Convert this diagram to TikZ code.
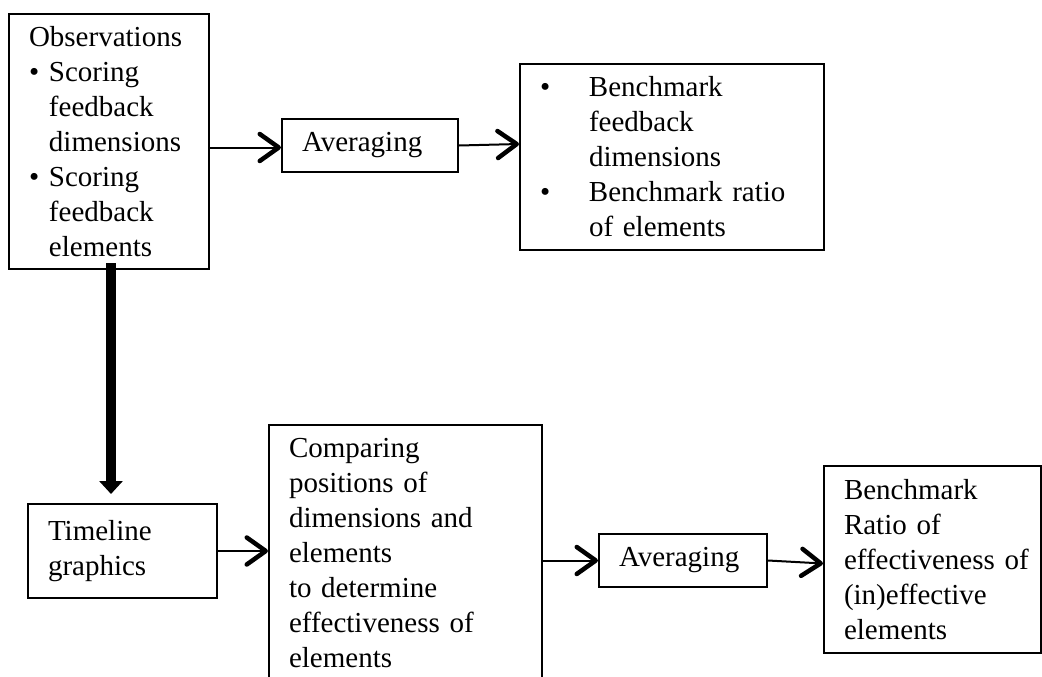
\documentclass[tikz,border=0pt]{standalone}
\usepackage{fontspec}
\setmainfont{Liberation Serif}
\usetikzlibrary{arrows.meta, calc}

\newcommand{\itm}[1][20pt]{\makebox[#1][l]{\textbullet}}
\newcommand{\ind}[1][20pt]{\hspace*{#1}}

\begin{document}
\begin{tikzpicture}[
            x = 1pt, y = 1pt,
            arr/.style = {-{Straight Barb[length=19pt,width=27pt,line width=4.5pt,round]}, line width=2pt}, % open arrow head
            bigarr/.style = {-{Triangle[length=13pt,width=23pt]}, line width=10pt} % heavy arrow
        ]

        \tikzstyle{box}=[
            draw = black,
            line width = 2pt,
            fill = white,
            anchor = north west,
            inner xsep = 20pt,
            inner ysep = 0pt,
            align = left,
            font = \fontsize{29}{35}\selectfont
        ]

        \useasboundingbox (0,0) rectangle (1042,-677);
        \clip (0,0) rectangle (1042,-677);

        \node[box, text width=160pt, minimum height=255pt] (obs) at (8,-13)
            {Observations\\ \itm Scoring\\ \ind feedback\\ \ind dimensions\\ \itm Scoring\\ \ind feedback\\ \ind elements};
        \node[box, text width=136pt, minimum height=53pt] (avg1) at (281,-118) {Averaging};
        \node[box, text width=264pt, minimum height=186pt] (bench1) at (519,-63)
            {\itm[49pt]Benchmark\\ \ind[49pt]feedback\\ \ind[49pt]dimensions\\ \itm[49pt]Benchmark ratio\\ \ind[49pt]of elements};
        \node[box, text width=149pt, minimum height=94pt] (tl) at (27,-503) {Timeline\\ graphics};
        \node[box, text width=233pt, minimum height=256pt] (cmp) at (268,-424)
            {Comparing\\ positions of\\ dimensions and\\ elements\\ to determine\\ effectiveness of\\ elements};
        \node[box, text width=128pt, minimum height=53pt] (avg2) at (598,-533) {Averaging};
        \node[box, text width=177pt, minimum height=187pt] (bench2) at (823,-465)
            {Benchmark\\ Ratio of\\ \mbox{effectiveness of}\\ (in)effective\\ elements};

        \draw[arr] ([yshift=-2pt]avg1.west -| obs.east) -- ([yshift=-2pt]avg1.west);
        \draw[arr] (avg1.east) -- ([yshift=13pt]bench1.west);
        \draw[bigarr] ($(obs.south)+(2pt,7pt)$) -- ($(obs.south |- tl.north)+(2pt,9pt)$);
        \draw[arr] (tl.east) -- (tl.east -| cmp.west);
        \draw[arr] (avg2.west -| cmp.east) -- (avg2.west);
        \draw[arr] (avg2.east) -- ([yshift=-4pt]bench2.west);
    \end{tikzpicture}
\end{document}
